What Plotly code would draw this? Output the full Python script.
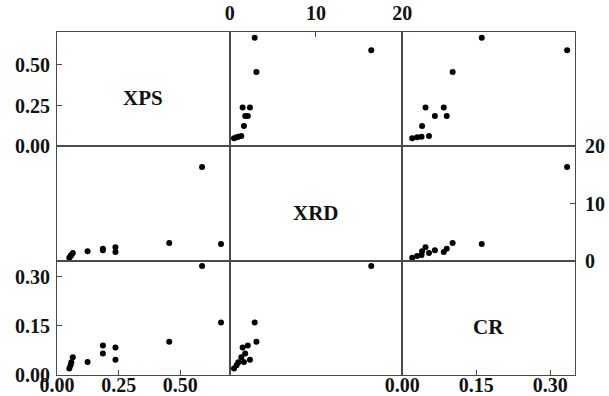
import plotly.graph_objects as go
from plotly.subplots import make_subplots

# ---- data ----
variables = ["XPS", "XRD", "CR"]
xps = [0.050, 0.055, 0.058, 0.064, 0.124, 0.186, 0.186, 0.237, 0.237, 0.455, 0.665, 0.588]
xrd = [0.5, 0.8, 1.0, 1.35, 1.65, 1.8, 2.1, 1.5, 2.35, 3.1, 2.9, 16.4]
cr = [0.020, 0.030, 0.039, 0.054, 0.040, 0.066, 0.090, 0.084, 0.047, 0.102, 0.161, 0.334]

ranges = [[0, 0.70], [0, 20], [0, 0.35]]
tick_vals = [[0, 0.25, 0.50], [0, 10, 20], [0, 0.15, 0.30]]
tick_text = [["0.00", "0.25", "0.50"], ["0", "10", "20"], ["0.00", "0.15", "0.30"]]

data = [xps, xrd, cr]

W, H = 609, 396
fig = make_subplots(rows=3, cols=3, horizontal_spacing=0, vertical_spacing=0)

for i in range(3):
    for j in range(3):
        if i == j:
            # empty placeholder so the diagonal panel is drawn
            fig.add_trace(
                go.Scatter(x=[None], y=[None], mode="markers",
                           showlegend=False, hoverinfo="skip"),
                row=i + 1, col=j + 1,
            )
            continue
        fig.add_trace(
            go.Scatter(
                x=data[j], y=data[i], mode="markers",
                marker=dict(color="black", size=6, line=dict(width=0)),
                showlegend=False, hoverinfo="skip",
            ),
            row=i + 1, col=j + 1,
        )

tickfont = dict(family="Liberation Serif", size=20, color="#111111", weight="bold")
line_color = "#4a4a4a"

for i in range(3):
    for j in range(3):
        xa = dict(range=ranges[j], showgrid=False, zeroline=False, showline=True,
                  mirror=True, linecolor=line_color, linewidth=1, automargin=False,
                  showticklabels=False, ticks="", fixedrange=True)
        ya = dict(range=ranges[i], showgrid=False, zeroline=False, showline=True,
                  mirror=True, linecolor=line_color, linewidth=1, automargin=False,
                  showticklabels=False, ticks="", fixedrange=True)
        # x tick axes: col1 & col3 at bottom (row3), col2 on top (row1)
        if (j in (0, 2) and i == 2) or (j == 1 and i == 0):
            xa.update(showticklabels=True, ticks="inside", ticklen=5, tickwidth=1,
                      tickcolor=line_color, tickvals=tick_vals[j], ticktext=tick_text[j],
                      tickfont=tickfont, side="bottom" if i == 2 else "top",
                      ticklabelstandoff=-8 if i == 2 else 3)
        # y tick axes: row1 & row3 at left (col1), row2 at right (col3)
        if (i in (0, 2) and j == 0) or (i == 1 and j == 2):
            ya.update(showticklabels=True, ticks="inside", ticklen=5, tickwidth=1,
                      tickcolor=line_color, tickvals=tick_vals[i], ticktext=tick_text[i],
                      tickfont=tickfont, side="left" if j == 0 else "right",
                      ticklabelstandoff=2 if j == 0 else 5)
        fig.update_xaxes(xa, row=i + 1, col=j + 1)
        fig.update_yaxes(ya, row=i + 1, col=j + 1)

# diagonal labels
for k, name in enumerate(variables):
    idx = k * 3 + k + 1
    sfx = "" if idx == 1 else str(idx)
    fig.add_annotation(
        text=name, xref="x" + sfx + " domain", yref="y" + sfx + " domain",
        x=0.5, y=0.5, yshift=-9, showarrow=False,
        font=dict(family="Liberation Serif", size=21, color="#111111", weight="bold"),
    )

fig.update_layout(
    width=W, height=H,
    margin=dict(l=57, r=34, t=32, b=21, autoexpand=False),
    paper_bgcolor="white", plot_bgcolor="white",
)

fig.write_html(
    "out.html",
    config={"displayModeBar": False, "staticPlot": True},
    post_script="document.body.style.margin='0';document.body.style.overflow='hidden';",
)
